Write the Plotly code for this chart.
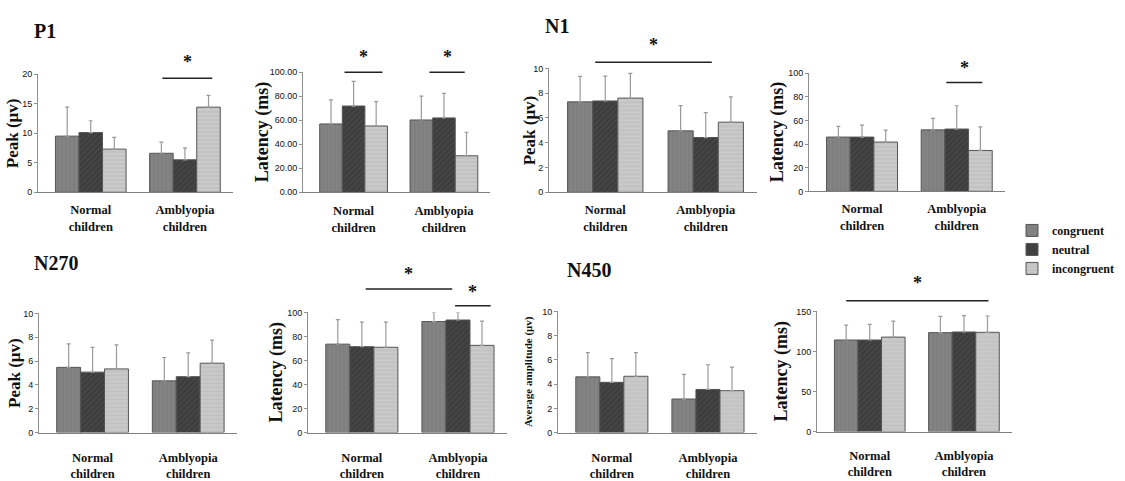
import plotly.graph_objects as go

# ---------------- data ----------------
groups = ["Normal children", "Amblyopia children"]
conditions = ["congruent", "neutral", "incongruent"]

# values per condition order (congruent, neutral, incongruent)
p1_peak_normal = [9.5, 10.1, 7.3]
p1_peak_ambly = [6.6, 5.5, 14.4]
p1_peak_sd_normal = [4.9, 2.0, 2.0]
p1_peak_sd_ambly = [1.9, 2.0, 2.0]

p1_lat_normal = [56.9, 71.8, 55.2]
p1_lat_ambly = [60.2, 61.9, 30.4]
p1_lat_sd_normal = [20.1, 20.5, 20.2]
p1_lat_sd_ambly = [19.8, 20.4, 19.6]

n1_peak_normal = [7.3, 7.37, 7.6]
n1_peak_ambly = [4.96, 4.42, 5.66]
n1_peak_sd_normal = [2.06, 2.0, 2.0]
n1_peak_sd_ambly = [2.04, 2.01, 2.04]

n1_lat_normal = [45.9, 45.9, 41.7]
n1_lat_ambly = [52.0, 52.7, 34.6]
n1_lat_sd_normal = [9.1, 10.1, 10.1]
n1_lat_sd_ambly = [9.7, 19.7, 20.0]

n270_peak_normal = [5.47, 5.07, 5.34]
n270_peak_ambly = [4.34, 4.69, 5.82]
n270_peak_sd_normal = [1.97, 2.07, 2.02]
n270_peak_sd_ambly = [1.96, 1.99, 1.94]

n270_lat_normal = [73.6, 71.5, 71.0]
n270_lat_ambly = [92.4, 93.7, 72.6]
n270_lat_sd_normal = [20.4, 20.4, 20.9]
n270_lat_sd_ambly = [7.6, 6.3, 20.1]

n450_amp_normal = [4.6, 4.15, 4.65]
n450_amp_ambly = [2.77, 3.56, 3.46]
n450_amp_sd_normal = [2.0, 1.95, 1.95]
n450_amp_sd_ambly = [2.03, 2.04, 1.94]

n450_lat_normal = [114.4, 114.4, 118.0]
n450_lat_ambly = [123.6, 124.4, 124.0]
n450_lat_sd_normal = [18.6, 19.6, 20.0]
n450_lat_sd_ambly = [20.4, 20.4, 20.4]

# ---------------- layout config ----------------
W, H = 1125, 481
SERIF = "Liberation Serif, Times New Roman, serif"
NARROW = "Liberation Sans Narrow, Arial Narrow, Liberation Sans, sans-serif"

# box = (x0, x1, ytop, ybottom) in pixels; tx = x centre of y-axis title; so = x label standoff
panels = [
    dict(n=p1_peak_normal, a=p1_peak_ambly, sn=p1_peak_sd_normal, sa=p1_peak_sd_ambly,
         box=(38, 233, 73, 198), yr=20, dt=5, fmt="", title="Peak (μv)", ts=17, tx=12, so=6),
    dict(n=p1_lat_normal, a=p1_lat_ambly, sn=p1_lat_sd_normal, sa=p1_lat_sd_ambly,
         box=(303, 490, 71, 198), yr=100, dt=20, fmt=".2f", title="Latency (ms)", ts=18, tx=262, so=7),
    dict(n=n1_peak_normal, a=n1_peak_ambly, sn=n1_peak_sd_normal, sa=n1_peak_sd_ambly,
         box=(549, 757, 67, 198), yr=10, dt=2, fmt="", title="Peak (μv)", ts=17, tx=529, so=6),
    dict(n=n1_lat_normal, a=n1_lat_ambly, sn=n1_lat_sd_normal, sa=n1_lat_sd_ambly,
         box=(809, 1005, 72, 197), yr=100, dt=20, fmt="", title="Latency (ms)", ts=18, tx=777, so=6),
    dict(n=n270_peak_normal, a=n270_peak_ambly, sn=n270_peak_sd_normal, sa=n270_peak_sd_ambly,
         box=(39, 237, 326, 452), yr=10, dt=2, fmt="", title="Peak (μv)", ts=17, tx=15, so=13),
    dict(n=n270_lat_normal, a=n270_lat_ambly, sn=n270_lat_sd_normal, sa=n270_lat_sd_ambly,
         box=(308, 507, 325, 452), yr=100, dt=20, fmt="", title="Latency (ms)", ts=18, tx=276, so=13),
    dict(n=n450_amp_normal, a=n450_amp_ambly, sn=n450_amp_sd_normal, sa=n450_amp_sd_ambly,
         box=(558, 757, 324, 452), yr=10, dt=2, fmt="", title="Average amplitude (μv)", ts=11, tx=528, so=13),
    dict(n=n450_lat_normal, a=n450_lat_ambly, sn=n450_lat_sd_normal, sa=n450_lat_sd_ambly,
         box=(817, 1012, 324, 451), yr=150, dt=50, fmt="", title="Latency (ms)", ts=18, tx=782, so=12),
]

styles = {
    "congruent": dict(color="#7f7f7f", fg="#8c8c8c", shape="|"),
    "neutral": dict(color="#3c3c3c", fg="#555555", shape="/"),
    "incongruent": dict(color="#cacaca", fg="#b4b4b4", shape="-"),
}

# significance markers: (panel index, x start, x end, line level, star level)
sig_marks = [
    (0, 0.76, 1.29, 0.965, 1.10),
    (1, -0.10, 0.32, 1.00, 1.13),
    (1, 0.84, 1.23, 1.00, 1.13),
    (2, -0.10, 1.06, 1.05, 1.19),
    (3, 0.89, 1.27, 0.92, 1.04),
    (5, 0.04, 0.94, 1.195, 1.32),
    (5, 0.97, 1.34, 1.055, 1.17),
    (7, -0.25, 1.26, 1.09, 1.24),
]

panel_titles = [("P1", 45, 28), ("N1", 557, 22), ("N270", 56, 273), ("N450", 589, 280)]

XMIN, XMAX = -0.56, 1.51

fig = go.Figure()
layout = dict(
    width=W, height=H, margin=dict(l=0, r=0, t=0, b=0),
    paper_bgcolor="white", plot_bgcolor="white",
    barmode="group", bargap=0.25, bargroupgap=0,
    showlegend=True,
    legend=dict(x=1012 / W, y=1 - 223 / H, xanchor="left", yanchor="top",
                font=dict(family=SERIF, size=12, color="#111"),
                bgcolor="rgba(0,0,0,0)", tracegroupgap=0, itemwidth=30),
)

shapes, annotations = [], []
for i, p in enumerate(panels):
    k = "" if i == 0 else str(i + 1)
    xa, ya = "x" + k, "y" + k
    x0, x1, yt, yb = p["box"]
    for j, cond in enumerate(conditions):
        st = styles[cond]
        fig.add_trace(go.Bar(
            x=[0, 1], y=[p["n"][j], p["a"][j]], name="<b>" + cond + "</b>",
            xaxis=xa, yaxis=ya, legendgroup=cond, showlegend=(i == 0),
            marker=dict(color=st["color"], line=dict(color="#555555", width=1),
                        pattern=dict(shape=st["shape"], fgcolor=st["fg"], bgcolor=st["color"],
                                     size=4, solidity=0.35)),
            error_y=dict(type="data", symmetric=False, array=[p["sn"][j], p["sa"][j]],
                         arrayminus=[0, 0], color="#9a9a9a", thickness=1.2, width=2),
        ))
    layout["xaxis" + k] = dict(
        domain=[x0 / W, x1 / W], anchor=ya, range=[XMIN, XMAX],
        showline=True, linecolor="#808080", linewidth=1, ticks="", showgrid=False, zeroline=False,
        tickvals=[0, 1], ticktext=["<b>Normal</b><br><b>children</b>", "<b>Amblyopia</b><br><b>children</b>"],
        tickfont=dict(family=SERIF, size=12.5, color="#111"), ticklabelstandoff=p["so"],
    )
    layout["yaxis" + k] = dict(
        domain=[1 - yb / H, 1 - yt / H], anchor=xa, range=[0, p["yr"]], dtick=p["dt"],
        tickformat=p["fmt"], showline=True, linecolor="#909090", linewidth=1,
        ticks="outside", ticklen=3, tickcolor="#909090", showgrid=False, zeroline=False,
        tickfont=dict(family=NARROW, size=9, color="#111"),
    )
    # y-axis title
    annotations.append(dict(xref="paper", yref="y" + k + " domain", x=p["tx"] / W, y=0.5,
                            text="<b>" + p["title"] + "</b>", textangle=-90, showarrow=False,
                            xanchor="center", yanchor="middle",
                            font=dict(family=SERIF, size=p["ts"], color="#111")))

for (pi, sx0, sx1, ly, sy) in sig_marks:
    k = "" if pi == 0 else str(pi + 1)
    shapes.append(dict(type="line", xref="x" + k, yref="y" + k + " domain",
                       x0=sx0, x1=sx1, y0=ly, y1=ly, line=dict(color="#222", width=1.5)))
    annotations.append(dict(xref="x" + k, yref="y" + k + " domain", x=(sx0 + sx1) / 2, y=sy,
                            text="<b>*</b>", showarrow=False, yanchor="middle",
                            font=dict(family=SERIF, size=18, color="#111")))

for (t, px, py) in panel_titles:
    annotations.append(dict(xref="paper", yref="paper", x=px / W, y=1 - py / H, text="<b>" + t + "</b>",
                            showarrow=False, xanchor="center", yanchor="middle",
                            font=dict(family=SERIF, size=20, color="#111")))

layout["shapes"] = shapes
layout["annotations"] = annotations
fig.update_layout(**layout)
fig.write_html("out.html", config={"displayModeBar": False},
               post_script="document.body.style.margin='0';document.body.style.overflow='hidden';")
